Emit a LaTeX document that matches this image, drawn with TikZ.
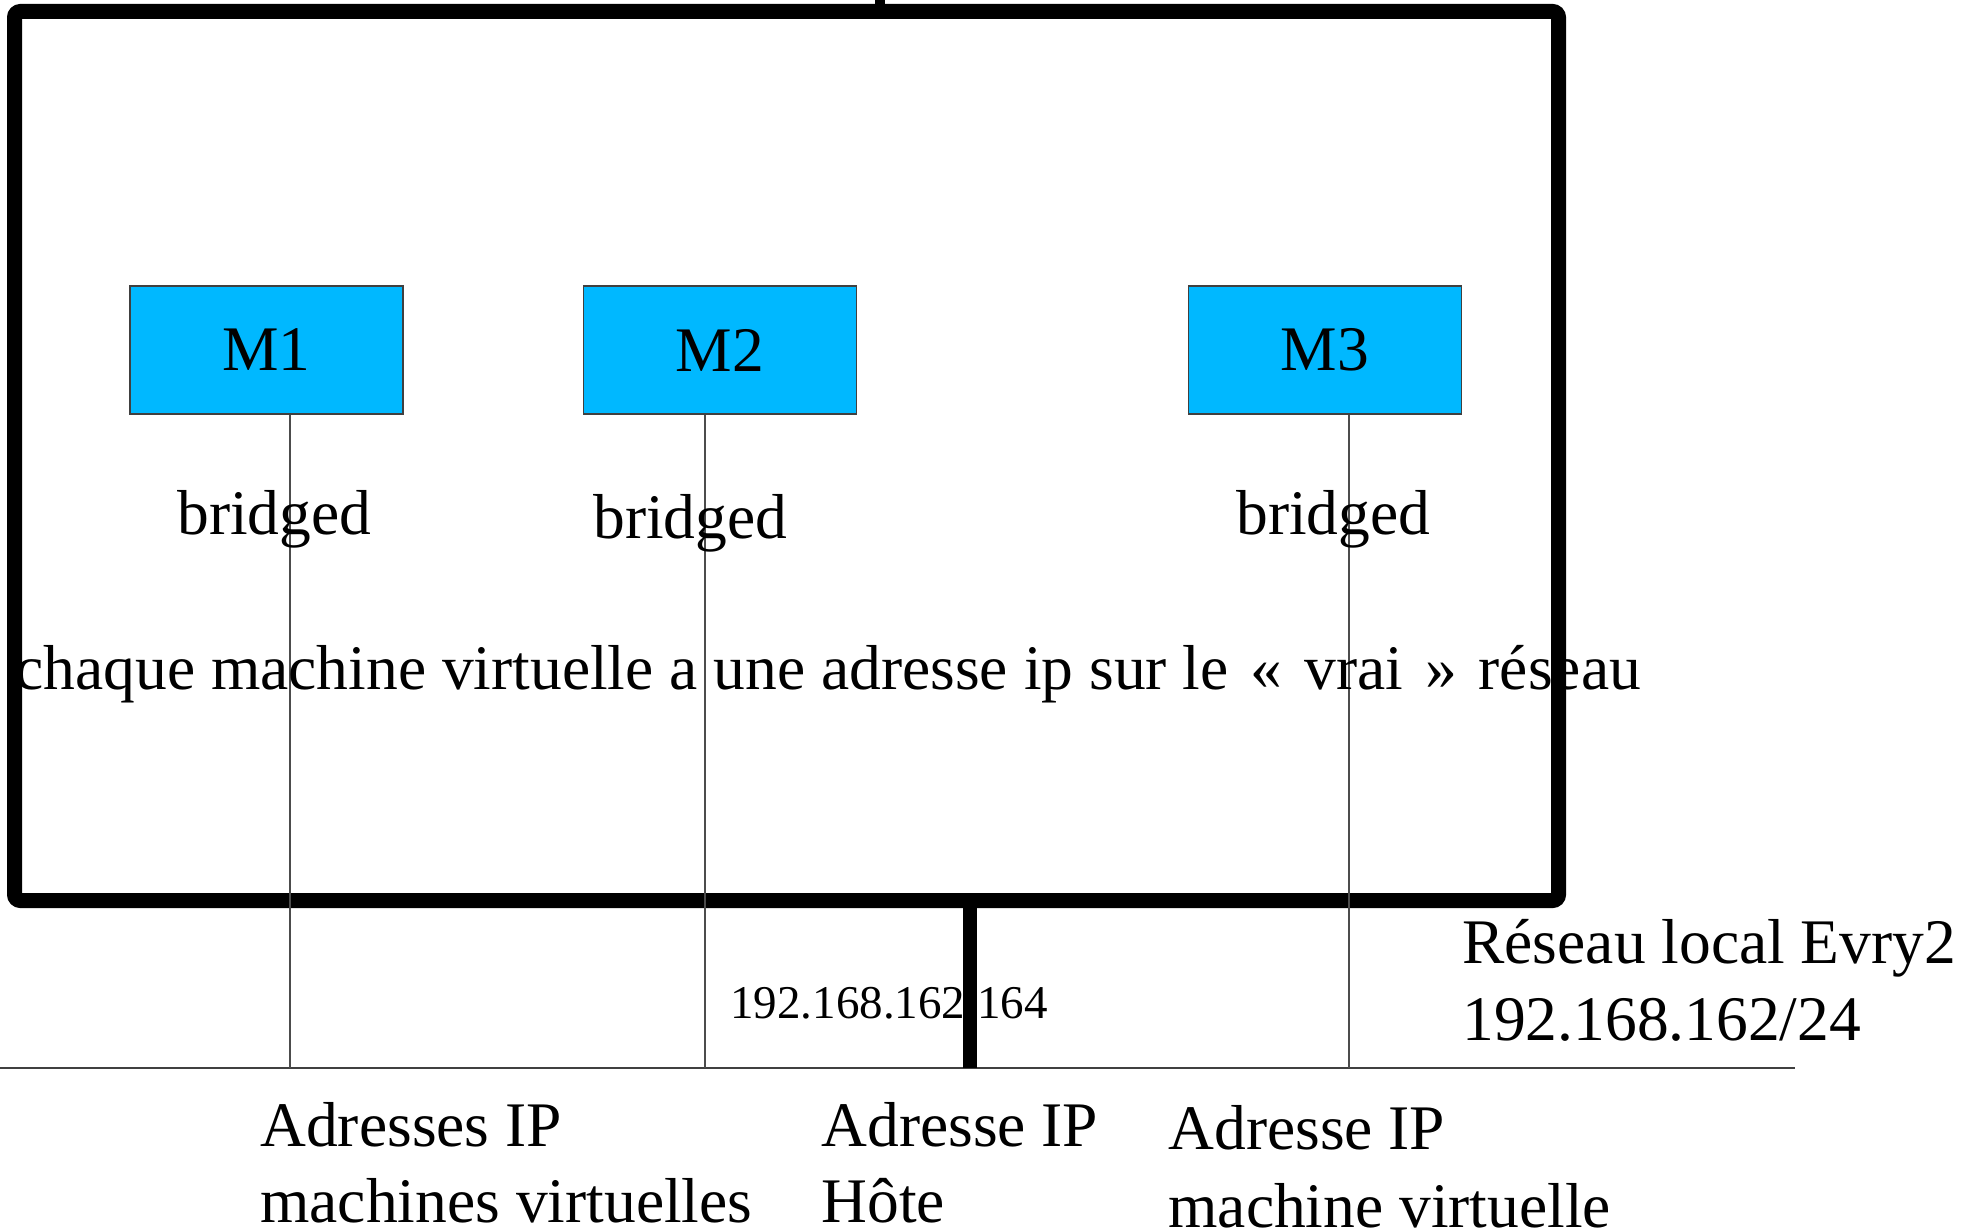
\documentclass[tikz,border=0pt]{standalone}
\usepackage{fontspec}
\setmainfont{Liberation Serif}
\definecolor{vmblue}{RGB}{0,184,255}
\newcommand{\gsp}{\hspace{11pt}}
\begin{document}
\begin{tikzpicture}[x=0.5pt,y=-0.5pt,
  bigtxt/.style={font=\fontsize{31.75}{38}\selectfont, inner sep=0pt, anchor=base west},
  iptxt/.style={font=\fontsize{23.5}{28}\selectfont, inner sep=0pt, anchor=base west},
  vmbox/.style={draw=black!75, line width=0.7pt, fill=vmblue, minimum width=136.5pt,
    minimum height=64pt, inner sep=0pt, font=\fontsize{31.75}{38}\selectfont},
  hostframe/.style={line width=7.5pt, rounded corners=3pt},
  hostlink/.style={line width=7pt},
  vmlink/.style={draw=black!70, line width=0.6pt},
  lan/.style={draw=black!75, line width=0.9pt},
]
\useasboundingbox (0,0) rectangle (1971,1230);

% host machine frame and its link to the LAN
\draw[hostframe] (14.5,11.5) rectangle (1558.5,900.5);
\draw[line width=5pt] (880,0) -- (880,12);
\coordinate (hosttop) at (970,900);
\coordinate (hostbus) at (970,1068);

% local network bus
\coordinate (lanwest) at (0,1068);
\coordinate (laneast) at (1795,1068);
\draw[lan] (lanwest) -- (laneast);

% virtual machines
\node[vmbox] (m1) at (266.5,350) {M1};
\node[vmbox] (m2) at (720,350) {M2};
\node[vmbox] (m3) at (1325,350) {M3};

\coordinate (m1bus) at (290,1068);
\coordinate (m2bus) at (705,1068);
\coordinate (m3bus) at (1349,1068);
\draw[vmlink] (m1bus |- m1.south) -- (m1bus);
\draw[vmlink] (m2bus |- m2.south) -- (m2bus);
\draw[vmlink] (m3bus |- m3.south) -- (m3bus);

\draw[hostlink] (hosttop) -- (hostbus);

% labels
\node[bigtxt] (b1) at (177,534) {bridged};
\node[bigtxt] (b2) at (593,538) {bridged};
\node[bigtxt] (b3) at (1236,534) {bridged};
\node[bigtxt] (note) at (15,689) {chaque machine virtuelle a une adresse ip sur le\gsp«\gsp vrai\gsp»\gsp réseau};

\node[iptxt] (hostip) at (730,1018) {192.168.162.164};

\node[bigtxt] (lan1) at (1462,963) {Réseau local Evry2};
\node[bigtxt] (lan2) at (1462,1040) {192.168.162/24};

\node[bigtxt] (a1) at (260,1146) {Adresses IP};
\node[bigtxt] (a2) at (260,1222) {machines virtuelles};
\node[bigtxt] (h1) at (821,1146) {Adresse IP};
\node[bigtxt] (h2) at (821,1222) {Hôte};
\node[bigtxt] (v1) at (1168,1149) {Adresse IP};
\node[bigtxt] (v2) at (1168,1227) {machine virtuelle};
\end{tikzpicture}
\end{document}
